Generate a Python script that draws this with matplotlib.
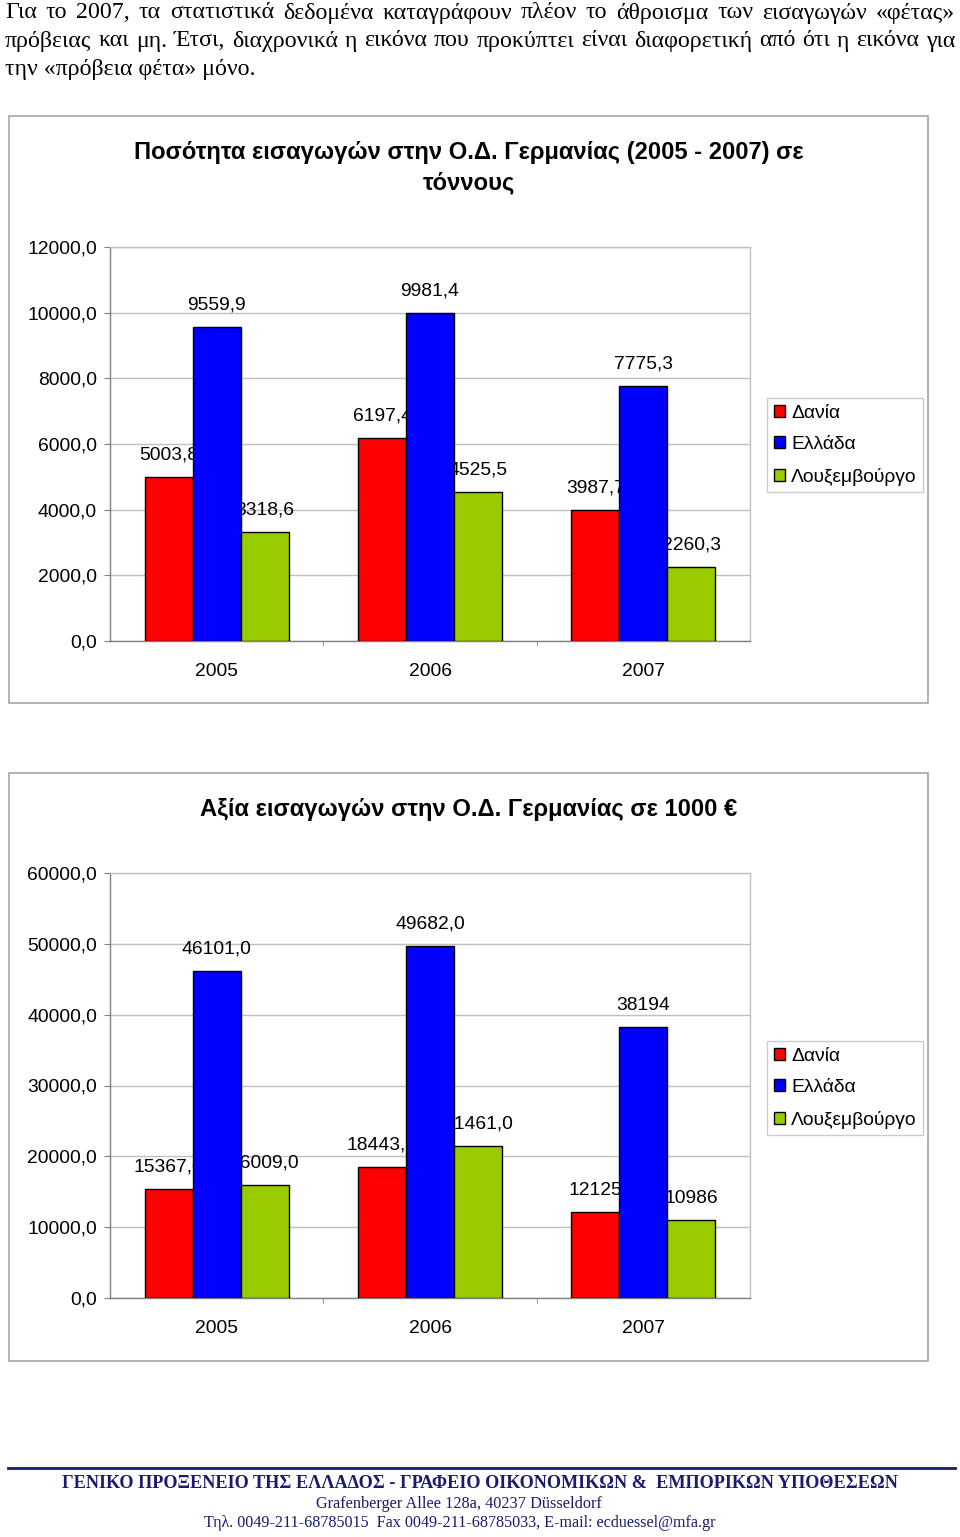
import numpy as np
import matplotlib
matplotlib.use("Agg")
import matplotlib.pyplot as plt
from matplotlib.patches import Rectangle
from matplotlib.lines import Line2D
from matplotlib.ticker import FuncFormatter, FixedLocator

# ---------------- data ----------------
years = ["2005", "2006", "2007"]
countries = ["Δανία", "Ελλάδα", "Λουξεμβούργο"]
qty_denmark = [5003.8, 6197.4, 3987.7]
qty_greece = [9559.9, 9981.4, 7775.3]
qty_luxembourg = [3318.6, 4525.5, 2260.3]
val_denmark = [15367.0, 18443.0, 12125.0]
val_greece = [46101.0, 49682.0, 38194.0]
val_luxembourg = [16009.0, 21461.0, 10986.0]
val_label_decimals = [1, 1, 0]   # 2007 values shown without decimals
qty_ticks = [0, 2000, 4000, 6000, 8000, 10000, 12000]
val_ticks = [0, 10000, 20000, 30000, 40000, 50000, 60000]

title1 = ["Ποσότητα εισαγωγών στην Ο.Δ. Γερμανίας (2005 - 2007) σε", "τόννους"]
title2 = "Αξία εισαγωγών στην Ο.Δ. Γερμανίας σε 1000 €"
para_lines = [
    "Για το 2007, τα στατιστικά δεδομένα καταγράφουν πλέον το άθροισμα των εισαγωγών «φέτας»",
    "πρόβειας και μη. Έτσι, διαχρονικά η εικόνα που προκύπτει είναι διαφορετική από ότι η εικόνα για",
    "την «πρόβεια φέτα» μόνο.",
]
footer_lines = [
    "ΓΕΝΙΚΟ ΠΡΟΞΕΝΕΙΟ ΤΗΣ ΕΛΛΑΔΟΣ - ΓΡΑΦΕΙΟ ΟΙΚΟΝΟΜΙΚΩΝ &  ΕΜΠΟΡΙΚΩΝ ΥΠΟΘΕΣΕΩΝ",
    "Grafenberger Allee 128a, 40237 Düsseldorf",
    "Τηλ. 0049-211-68785015  Fax 0049-211-68785033, E-mail: ecduessel@mfa.gr",
]

colors = ["#ff0000", "#0000ff", "#99cc00"]
W, H = 960, 1537
SANS = ["Liberation Sans", "DejaVu Sans"]
SERIF = ["Liberation Serif", "DejaVu Serif"]
FS = 13.9

fig = plt.figure(figsize=(W / 100, H / 100), dpi=100)
fig.patch.set_facecolor("white")


def fx(x):
    return x / W


def fy(y):
    return 1 - y / H


# ---------------- paragraph (justified) ----------------
renderer = fig.canvas.get_renderer()
para_y = [13, 41, 69]
left, right = 5, 955
PFS = 17.2
for i, line in enumerate(para_lines):
    y = fy(para_y[i])
    if i < 2:
        words = line.split(" ")
        texts = [fig.text(0, y, w, family=SERIF, fontsize=PFS, va="center") for w in words]
        widths = [t.get_window_extent(renderer).width for t in texts]
        gap = (right - left - sum(widths)) / (len(words) - 1)
        x = left
        for t, wdt in zip(texts, widths):
            t.set_x(fx(x))
            x += wdt + gap
    else:
        fig.text(fx(left), y, line, family=SERIF, fontsize=PFS, va="center")


# ---------------- charts ----------------
def frame(x0, y0, x1, y1):
    fig.patches.append(Rectangle((fx(x0), fy(y1)), fx(x1 - x0), (y1 - y0) / H,
                                 transform=fig.transFigure, fill=False,
                                 edgecolor="#a6a6a6", lw=1.2))


def chart(box, plot, series, ticks, title_lines, title_y, title_fs, decimals, legend_top):
    frame(*box)
    px0, py0, px1, py1 = plot
    ax = fig.add_axes([fx(px0), fy(py1), fx(px1 - px0), (py1 - py0) / H])
    x = np.arange(len(years))
    w = 0.225
    for k, vals in enumerate(series):
        pos = x + (k - 1) * w
        ax.bar(pos, vals, width=w, color=colors[k], edgecolor="black", lw=1.0,
               zorder=3, label=countries[k])
        for j, (p, v) in enumerate(zip(pos, vals)):
            d = decimals[j]
            s = f"{v:.{d}f}".replace(".", ",")
            ax.annotate(s, (p, v), xytext=(0, 22), textcoords="offset pixels",
                        ha="center", va="center", fontsize=FS, family=SANS,
                        zorder=2, annotation_clip=False)
    ax.set_xlim(-0.5, len(years) - 0.5)
    ax.set_ylim(ticks[0], ticks[-1])
    ax.set_yticks(ticks)
    ax.yaxis.set_major_formatter(FuncFormatter(lambda v, p: f"{v:.1f}".replace(".", ",")))
    ax.set_xticks(x)
    ax.set_xticklabels(years)
    ax.xaxis.set_minor_locator(FixedLocator(x[:-1] + 0.5))
    ax.tick_params(axis="x", which="major", length=0, pad=15.5, labelsize=FS)
    ax.tick_params(axis="x", which="minor", length=3.6, color="#808080")
    ax.tick_params(axis="y", length=4.3, color="#808080", pad=5, labelsize=FS)
    for lab in ax.get_xticklabels() + ax.get_yticklabels():
        lab.set_family(SANS)
    ax.grid(axis="y", color="#c0c0c0", lw=1.0, zorder=0)
    ax.set_axisbelow(True)
    for sp in ["top", "right"]:
        ax.spines[sp].set_color("#c0c0c0")
    for sp in ["left", "bottom"]:
        ax.spines[sp].set_color("#808080")
    for sp in ax.spines.values():
        sp.set_linewidth(1.0)
    for tl, ty in zip(title_lines, title_y):
        fig.text(fx(469), fy(ty), tl, ha="center", va="center", fontsize=title_fs,
                 fontweight="bold", family=SANS)
    leg = ax.legend(loc="upper left", bbox_to_anchor=(fx(767), fy(legend_top)),
                    bbox_transform=fig.transFigure, prop={"family": SANS, "size": FS},
                    frameon=True, fancybox=False, edgecolor="#c0c0c0",
                    handlelength=0.57, handleheight=0.57, handletextpad=0.35,
                    labelspacing=0.75, borderpad=0.34, borderaxespad=0)
    leg.get_frame().set_linewidth(1.0)
    return ax


chart((9, 116, 928, 703), (110, 247, 750, 641),
      [qty_denmark, qty_greece, qty_luxembourg], qty_ticks,
      title1, [152, 183], 17.1, [1, 1, 1], 398)
chart((9, 773, 928, 1361), (110, 873, 750, 1298),
      [val_denmark, val_greece, val_luxembourg], val_ticks,
      [title2], [809], 17.1, val_label_decimals, 1041)

# ---------------- footer ----------------
navy = "#1a1a6e"
fig.lines.append(Line2D([fx(8), fx(955)], [fy(1468), fy(1468)], transform=fig.transFigure,
                        color=navy, lw=2))
fig.text(fx(480), fy(1484), footer_lines[0], ha="center", va="center", family=SERIF,
         fontsize=13.15, fontweight="bold", color=navy)
fig.text(fx(459), fy(1504), footer_lines[1], ha="center", va="center", family=SERIF,
         fontsize=11.7, color=navy)
fig.text(fx(459.5), fy(1523), footer_lines[2], ha="center", va="center", family=SERIF,
         fontsize=11.6, color=navy)

fig.savefig("out.png", dpi=100, facecolor="white")
